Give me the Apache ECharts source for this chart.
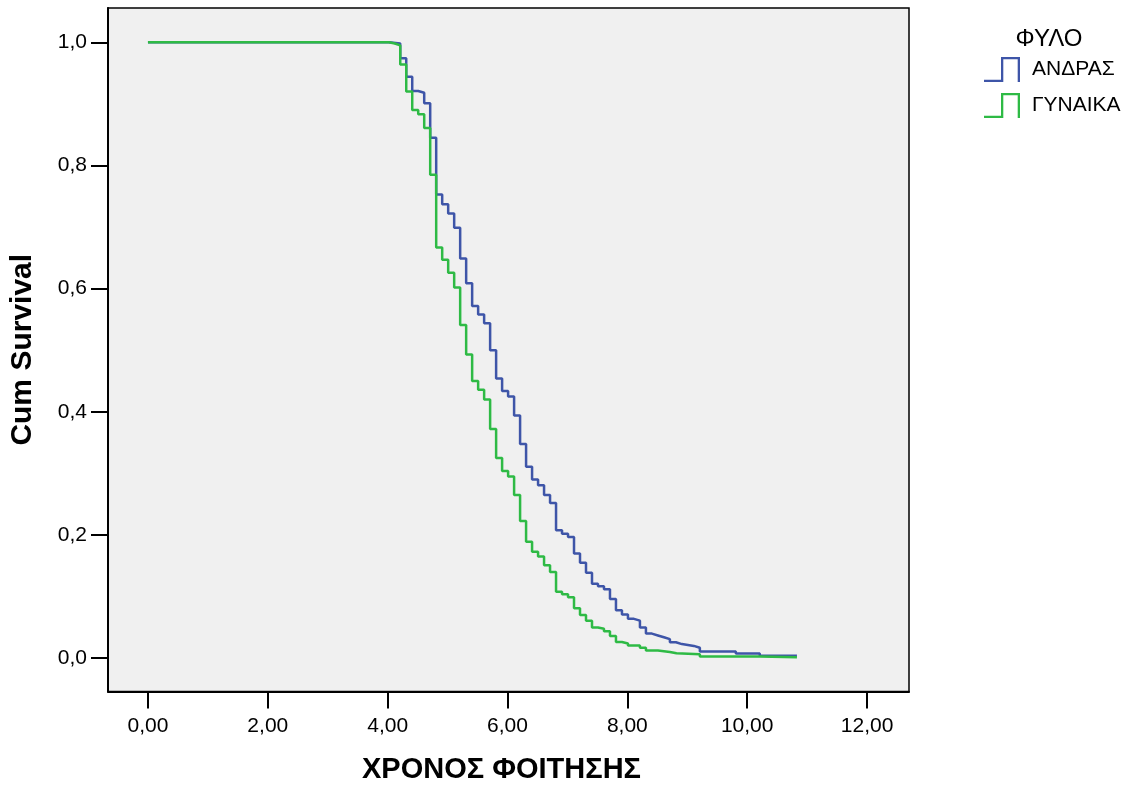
<!DOCTYPE html>
<html>
<head>
<meta charset="utf-8">
<script src="https://cdn.jsdelivr.net/npm/echarts@6/dist/echarts.min.js"></script>
<style>html,body{margin:0;padding:0;background:#fff;}#c{width:1133px;height:789px;}</style>
</head>
<body>
<div id="c"></div>
<script>
// ---- data ----
var xTicks = [0, 2, 4, 6, 8, 10, 12];
var yTicks = [0, 0.2, 0.4, 0.6, 0.8, 1.0];
var groupNames = ['ΑΝΔΡΑΣ', 'ΓΥΝΑΙΚΑ'];
var legendTitle = 'ΦΥΛΟ';
var xTitle = 'ΧΡΟΝΟΣ ΦΟΙΤΗΣΗΣ';
var yTitle = 'Cum Survival';

var timesMale = [0, 4.02, 4.21, 4.31, 4.41, 4.51, 4.61, 4.71, 4.81, 4.91, 5.01, 5.11, 5.21, 5.31, 5.41, 5.51, 5.61, 5.71, 5.81, 5.91, 6.01, 6.11, 6.21, 6.31, 6.41, 6.51, 6.61, 6.71, 6.81, 6.91, 7.01, 7.11, 7.21, 7.31, 7.41, 7.51, 7.61, 7.71, 7.81, 7.91, 8.01, 8.11, 8.21, 8.31, 8.41, 8.51, 8.61, 8.71, 8.81, 8.91, 9.11, 9.21, 9.81, 10.21, 10.83];
var survMale  = [1.0, 0.998, 0.974, 0.944, 0.921, 0.918, 0.901, 0.845, 0.753, 0.737, 0.722, 0.699, 0.649, 0.609, 0.572, 0.558, 0.544, 0.500, 0.454, 0.434, 0.425, 0.394, 0.348, 0.311, 0.290, 0.281, 0.265, 0.252, 0.208, 0.202, 0.197, 0.170, 0.155, 0.139, 0.121, 0.117, 0.112, 0.096, 0.078, 0.071, 0.064, 0.061, 0.050, 0.040, 0.037, 0.034, 0.031, 0.026, 0.023, 0.020, 0.017, 0.011, 0.0076, 0.004, 0.004];

var timesFemale = [0, 4.02, 4.12, 4.21, 4.31, 4.41, 4.51, 4.61, 4.71, 4.81, 4.91, 5.01, 5.11, 5.21, 5.31, 5.41, 5.51, 5.61, 5.71, 5.81, 5.91, 6.01, 6.11, 6.21, 6.31, 6.41, 6.51, 6.61, 6.71, 6.81, 6.91, 7.01, 7.11, 7.21, 7.31, 7.41, 7.51, 7.61, 7.71, 7.81, 7.91, 8.01, 8.21, 8.31, 8.51, 8.71, 8.82, 9.21, 10.21, 10.83];
var survFemale  = [1.0, 0.998, 0.995, 0.964, 0.920, 0.890, 0.883, 0.861, 0.785, 0.667, 0.647, 0.626, 0.602, 0.541, 0.493, 0.450, 0.436, 0.420, 0.372, 0.325, 0.304, 0.295, 0.265, 0.223, 0.189, 0.173, 0.165, 0.151, 0.140, 0.108, 0.104, 0.099, 0.081, 0.070, 0.061, 0.050, 0.048, 0.044, 0.036, 0.0265, 0.024, 0.0206, 0.017, 0.0125, 0.010, 0.008, 0.0065, 0.003, 0.0015, 0.0015];

var colors = ['#3E55A8', '#2EBA45'];
// ---- chart ----
function pairs(t, s) { return t.map(function (v, i) { return [v, s[i]]; }); }
function fmt(v, d) { return v.toFixed(d).replace('.', ','); }
var FONT = '"Liberation Sans", Arial, sans-serif';
var iconPath = 'path://M0,22.7 L17,22.7 L17,0 L36,0 L36,25 L33.7,25 L33.7,2.3 L19.3,2.3 L19.3,25 L0,25 Z';

var chart = echarts.init(document.getElementById('c'), null, {renderer: 'canvas'});
chart.setOption({
  animation: false,
  backgroundColor: '#ffffff',
  color: colors,
  grid: {left: 107, top: 8, width: 802, height: 684, show: true, backgroundColor: '#f0f0f0', borderColor: '#000', borderWidth: 1.5, containLabel: false},
  xAxis: {
    type: 'value', min: -0.6667, max: 12.7,
    splitLine: {show: false},
    axisLine: {show: true, onZero: false, lineStyle: {color: '#000', width: 2}},
    axisTick: {show: true, length: 17, lineStyle: {color: '#000', width: 2}, customValues: xTicks},
    axisLabel: {customValues: xTicks, formatter: function (v) { return fmt(v, 2); }, color: '#000', fontSize: 21, fontFamily: FONT, margin: 24},
    name: xTitle, nameLocation: 'middle', nameGap: 78,
    nameTextStyle: {fontSize: 29, fontWeight: 'bold', color: '#000', fontFamily: FONT, verticalAlign: 'middle', padding: [0, 14, 0, 0]}
  },
  yAxis: {
    type: 'value', min: -0.054, max: 1.0557,
    splitLine: {show: false},
    axisLine: {show: true, onZero: false, lineStyle: {color: '#000', width: 2}},
    axisTick: {show: true, length: 17, lineStyle: {color: '#000', width: 2}, customValues: yTicks},
    axisLabel: {customValues: yTicks, formatter: function (v) { return fmt(v, 1); }, color: '#000', fontSize: 21, fontFamily: FONT, margin: 21},
    name: yTitle, nameLocation: 'middle', nameGap: 85, nameRotate: 90,
    nameTextStyle: {fontSize: 30, fontWeight: 'bold', color: '#000', fontFamily: FONT, verticalAlign: 'middle'}
  },
  legend: {
    orient: 'vertical', left: 984, top: 57, padding: 0,
    itemWidth: 36, itemHeight: 25, itemGap: 11,
    icon: iconPath,
    textStyle: {fontSize: 21, color: '#000', fontFamily: FONT, padding: [0, 0, 0, 7]},
    data: groupNames
  },
  graphic: [{type: 'text', x: 1049, y: 39, style: {text: legendTitle, font: '24px ' + FONT, fill: '#000', textAlign: 'center', textVerticalAlign: 'middle'}}],
  series: [
    {name: groupNames[0], type: 'line', step: 'end', symbol: 'none', data: pairs(timesMale, survMale), lineStyle: {width: 2.5, color: colors[0]}, itemStyle: {color: colors[0]}},
    {name: groupNames[1], type: 'line', step: 'end', symbol: 'none', data: pairs(timesFemale, survFemale), lineStyle: {width: 2.5, color: colors[1]}, itemStyle: {color: colors[1]}}
  ]
});
</script>
</body>
</html>
